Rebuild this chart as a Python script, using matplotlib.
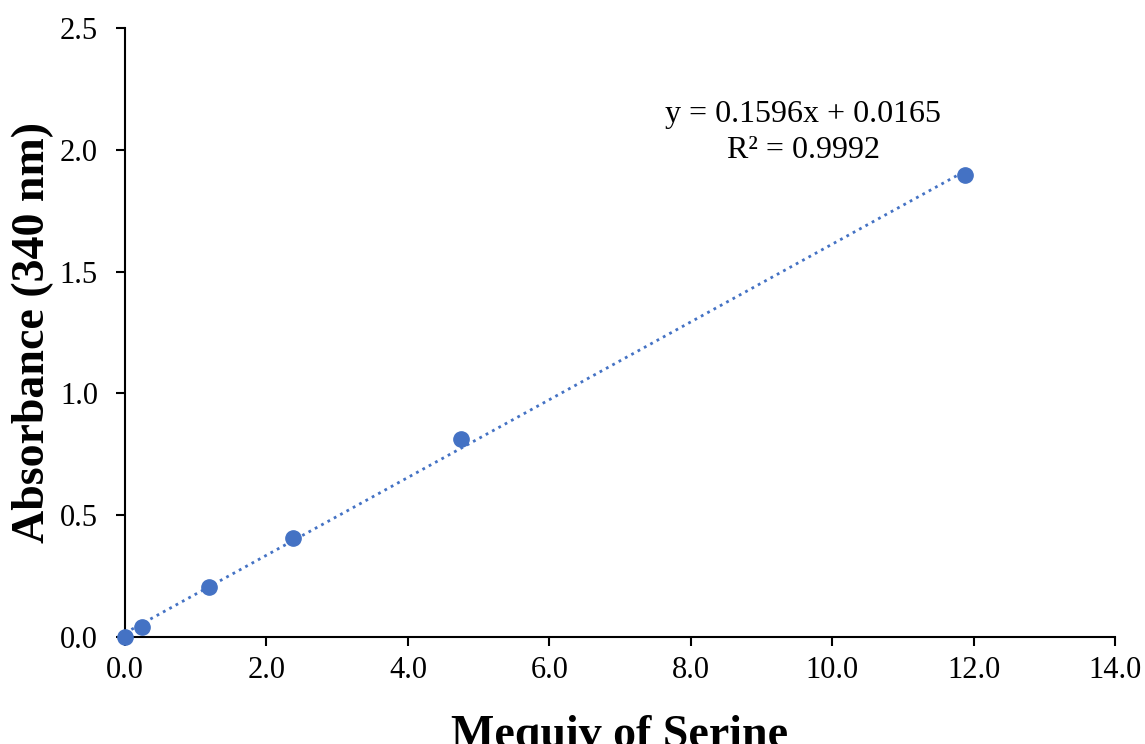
import numpy as np
import matplotlib.pyplot as plt

plt.rcParams['font.family'] = ['Liberation Serif', 'DejaVu Serif']

# data
serine_mequiv = [0.0, 0.24, 1.19, 2.38, 4.75, 11.88]
absorbance = [0.0, 0.041, 0.205, 0.406, 0.813, 1.897]
slope = 0.1596
intercept = 0.0165
r_squared = 0.9992

x_ticks = np.arange(0, 14.1, 2)
y_ticks = np.arange(0, 2.51, 0.5)

blue = "#4472C4"

fig = plt.figure(figsize=(11.45, 7.44), dpi=100)
ax = fig.add_axes([0.1092, 0.1438, 0.8646, 0.8186])

# linear trendline
fit_x = np.array([min(serine_mequiv), max(serine_mequiv)])
ax.plot(fit_x, slope * fit_x + intercept, linestyle=(0, (1, 1.6)),
        color=blue, linewidth=2.0, zorder=2)

ax.plot(serine_mequiv, absorbance, "o", color=blue, markersize=11,
        clip_on=False, zorder=3)

ax.text(9.59, 2.072, f"y = {slope}x + {intercept}\nR² = {r_squared}",
        ha="center", va="center", fontsize=23, linespacing=1.3)

ax.set_xlim(0, 14)
ax.set_ylim(0, 2.5)
ax.set_xticks(x_ticks)
ax.set_yticks(y_ticks)
ax.set_xticklabels([f"{v:.1f}" for v in x_ticks])
ax.set_yticklabels([f"{v:.1f}" for v in y_ticks])
ax.tick_params(labelsize=22, direction="out", length=6.5, width=1.5)
ax.tick_params(axis="x", pad=7)
ax.tick_params(axis="y", pad=13)

for side in ["top", "right"]:
    ax.spines[side].set_visible(False)
for side in ["left", "bottom"]:
    ax.spines[side].set_linewidth(1.5)

ax.set_xlabel("Mequiv of Serine", fontsize=33, fontweight="bold")
ax.set_ylabel("Absorbance (340 nm)", fontsize=33, fontweight="bold")
ax.xaxis.set_label_coords(0.5, -0.128)
ax.yaxis.set_label_coords(-0.072, 0.5)

plt.savefig("out.png", dpi=100)
plt.close()
